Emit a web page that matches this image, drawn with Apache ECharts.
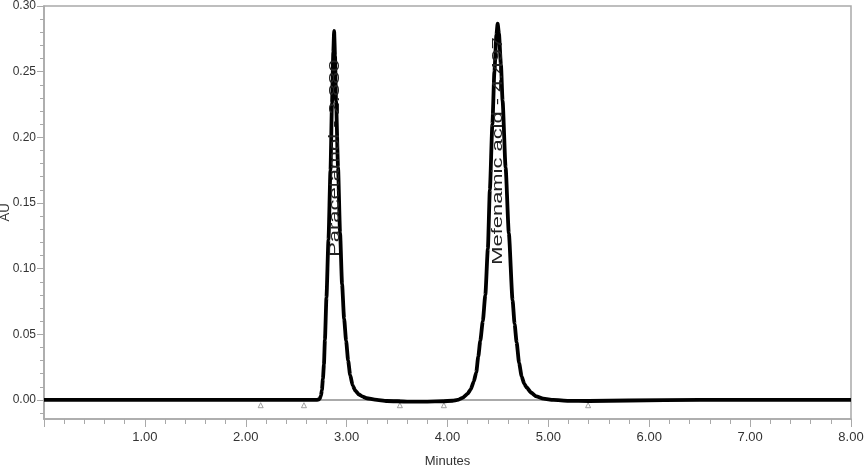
<!DOCTYPE html>
<html>
<head>
<meta charset="utf-8">
<title>Chromatogram</title>
<script src="https://cdn.jsdelivr.net/npm/echarts@6/dist/echarts.min.js"></script>
<style>
  html, body { margin: 0; padding: 0; background: #fff; }
  #chart { width: 868px; height: 470px; }
</style>
</head>
<body>
<div id="chart"></div>
<script>
// retention time (min) / absorbance (AU)
let times = [
  0, 0.5, 1.0, 1.5, 2.0, 2.5, 2.70, 2.73,
  2.745, 2.755, 2.765, 2.775, 2.785, 2.80, 2.82, 2.84, 2.855, 2.868, 2.876,
  2.885, 2.895, 2.915, 2.935, 2.955, 2.975, 2.995, 3.015, 3.035, 3.06, 3.085, 3.12, 3.16, 3.20, 3.28,
  3.40, 3.60, 3.80, 3.95, 4.05, 4.10,
  4.15, 4.20, 4.23, 4.26, 4.285, 4.305, 4.325, 4.35, 4.375, 4.40, 4.42, 4.445, 4.465, 4.485, 4.497,
  4.51, 4.53, 4.546, 4.576, 4.608, 4.645, 4.665, 4.685, 4.71, 4.735, 4.76, 4.785, 4.83, 4.88, 4.95,
  5.05, 5.20, 5.40, 5.80, 6.5, 7.0, 8.0
]
let au = [
  0, 0, 0, 0, 0, 0, 0, 0.0005,
  0.003, 0.0076, 0.016, 0.027, 0.046, 0.078, 0.122, 0.175, 0.226, 0.265, 0.281,
  0.262, 0.228, 0.177, 0.127, 0.088, 0.062, 0.045, 0.030, 0.019, 0.011, 0.0072, 0.0042, 0.0025, 0.0013, 0.0002,
  -0.0008, -0.0012, -0.0012, -0.0010, -0.0006, 0,
  0.0016, 0.0048, 0.008, 0.014, 0.021, 0.033, 0.045, 0.060, 0.080, 0.115, 0.160, 0.210, 0.250, 0.278, 0.2866,
  0.279, 0.255, 0.228, 0.177, 0.127, 0.076, 0.058, 0.044, 0.028, 0.018, 0.0125, 0.0095, 0.0055, 0.0027, 0.001,
  0, -0.0007, -0.0008, -0.0004, 0, 0, 0
]

let peakNames = ['Paracetamol', 'Mefenamic acid']
let peakTimes = [2.880, 4.497]

// integration start / end marks
let eventTimes = [2.148, 2.577, 3.528, 3.964, 5.394]
let baselineSegments = [[2.577, 3.528], [3.964, 5.394]]

let yTicks = [0, 0.05, 0.10, 0.15, 0.20, 0.25, 0.30]

let labelFont = "'Liberation Sans Narrow', 'Liberation Sans', Arial, sans-serif"
let axisGray = '#a9a9a9'

let myChart = echarts.init(document.getElementById('chart'), null, { renderer: 'canvas' })

function _traceData () {
  return times.map((t, i) => [t, au[i]])
}

function _baselineData () {
  let out = []
  baselineSegments.forEach((seg, i) => {
    if (i > 0) out.push([(baselineSegments[i - 1][1] + seg[0]) / 2, null])
    out.push([seg[0], 0], [seg[1], 0])
  })
  return out
}

function _drawChart () {
  let options = {
    animation: false,
    backgroundColor: '#fff',
    grid: {
      left: 44,
      right: 17,
      top: 6,
      bottom: 51,
      containLabel: false,
      outerBoundsMode: 'none',
      show: true,
      borderColor: axisGray,
      borderWidth: 1.5
    },
    xAxis: {
      type: 'value',
      min: 0,
      max: 8,
      interval: 1,
      name: 'Minutes',
      nameLocation: 'middle',
      nameGap: 36,
      nameTextStyle: { fontFamily: labelFont, fontSize: 13, color: '#333' },
      axisLine: { onZero: false, lineStyle: { color: axisGray, width: 1.5 } },
      axisTick: { length: 8, lineStyle: { color: axisGray } },
      minorTick: { show: true, splitNumber: 5, length: 5, lineStyle: { color: axisGray } },
      splitLine: { show: false },
      axisLabel: {
        margin: 12,
        fontFamily: labelFont,
        fontSize: 13,
        color: '#333',
        showMinLabel: false,
        formatter: function (v) {
          return v.toFixed(2)
        }
      }
    },
    yAxis: {
      type: 'value',
      min: -0.0145,
      max: 0.30,
      splitNumber: 6,
      name: 'AU',
      nameLocation: 'middle',
      nameGap: 32,
      nameRotate: 90,
      nameMoveOverlap: false,
      nameTextStyle: { fontFamily: labelFont, fontSize: 13, color: '#333' },
      axisLine: { show: true, onZero: false, lineStyle: { color: axisGray, width: 1.5 } },
      axisTick: { show: true, length: 7, customValues: yTicks, lineStyle: { color: axisGray } },
      minorTick: { show: true, splitNumber: 5, length: 4, lineStyle: { color: axisGray } },
      splitLine: { show: false },
      axisLabel: {
        margin: 8,
        fontFamily: labelFont,
        fontSize: 12,
        color: '#333',
        customValues: yTicks,
        formatter: function (v) {
          return v.toFixed(2)
        }
      }
    },
    series: [{
      name: 'baseline',
      type: 'line',
      data: _baselineData(),
      showSymbol: false,
      connectNulls: false,
      lineStyle: { color: '#aaaaaa', width: 2 },
      z: 1
    }, {
      name: 'trace',
      type: 'line',
      data: _traceData(),
      showSymbol: false,
      smooth: 0.2,
      smoothMonotone: 'x',
      lineStyle: { color: '#000', width: 3.8 },
      z: 3
    }, {
      name: 'events',
      type: 'scatter',
      data: eventTimes.map(t => [t, -0.004]),
      symbol: 'triangle',
      symbolSize: 5,
      itemStyle: { color: '#fff', borderColor: '#8c8c8c', borderWidth: 1 },
      z: 2
    }]
  }
  myChart.setOption(options)
  _drawPeakLabels()
}

// peak names written up along each peak, stretched like the instrument printout
function _drawPeakLabels () {
  let starts = [0.109, 0.103]
  let elements = peakNames.map((name, i) => {
    let p = myChart.convertToPixel({ gridIndex: 0 }, [peakTimes[i], starts[i]])
    return {
      type: 'text',
      x: p[0],
      y: p[1],
      rotation: Math.PI / 2,
      scaleX: 1.46,
      z: 10,
      style: {
        text: name + ' - ' + peakTimes[i].toFixed(3),
        font: "15px 'Liberation Sans', Arial, sans-serif",
        fill: '#222',
        align: 'left',
        verticalAlign: 'middle'
      }
    }
  })
  myChart.setOption({ graphic: elements })
}

_drawChart()
</script>
</body>
</html>
